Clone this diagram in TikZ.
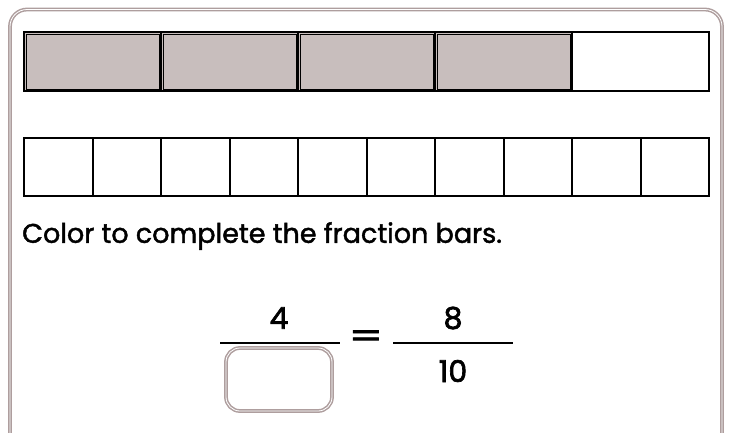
\documentclass[tikz,border=0pt]{standalone}
\usepackage{fontspec}
\setmainfont{Poppins}
\newfontfamily\taskfont{Poppins}[FakeBold=1.6]
\newfontfamily\digitfont{Poppins}[FakeBold=2.2]
\usetikzlibrary{positioning,calc}
\definecolor{FrameGray}{HTML}{AE9E9E}
\definecolor{ShadeGray}{HTML}{C8BEBD}

\begin{document}
\begin{tikzpicture}[x=1pt,y=-1pt,
  tcell/.style={draw=black,line width=2.8pt,minimum width=137pt,minimum height=59pt,inner sep=0pt},
  shaded/.style={tcell,fill=ShadeGray},
  bcell/.style={draw=black,line width=2pt,minimum width=68.5pt,minimum height=58pt,inner sep=0pt},
  frame/.style={draw=FrameGray,line width=1.5pt,double=white,double distance=0.8pt},
  fracline/.style={line width=2pt},
  digit/.style={font=\digitfont\fontsize{30}{34}\selectfont,inner sep=0pt}
]
\useasboundingbox (0,0) rectangle (732,432);
\draw[frame,rounded corners=17pt] (10,470) -- (10,9.5) -- (722,9.5) -- (722,470);
% top bar: fifths
\foreach \i in {1,...,5}{
  \ifnum\i<5
    \node[shaded] (t\i) at ({24+137*(\i-0.5)},61.5) {};
    \draw[black,line width=0.9pt] ($(t\i.north west)+(3.4,3.4)$) rectangle ($(t\i.south east)+(-3.4,-3.4)$);
  \else
    \node[tcell] (t\i) at ({24+137*(\i-0.5)},61.5) {};
  \fi
}
% bottom bar: tenths
\foreach \i in {1,...,10}
  \node[bcell] (b\i) at ({24+68.5*(\i-0.5)},167) {};
\node[anchor=west,inner sep=0pt,font=\taskfont\fontsize{27}{30}\selectfont] (task) at (22,236) {Color to complete the fraction bars.};
% fractions
\node[digit] (num4) at (279,318) {4};
\coordinate (fl1) at (220,343);
\coordinate (fr1) at (340,343);
\draw[fracline] (fl1) -- (fr1);
\node[frame,rounded corners=14pt,minimum width=106pt,minimum height=63pt] (ansbox) at (279,379.5) {};
\node[digit] (eq) at (366,339) {\scalebox{1.6}[1.1]{=}};
\node[digit] (num8) at (453,318) {8};
\coordinate (fl2) at (393,343);
\coordinate (fr2) at (513,343);
\draw[fracline] (fl2) -- (fr2);
\node[digit] (den10) at (453,371) {10};
\end{tikzpicture}
\end{document}
